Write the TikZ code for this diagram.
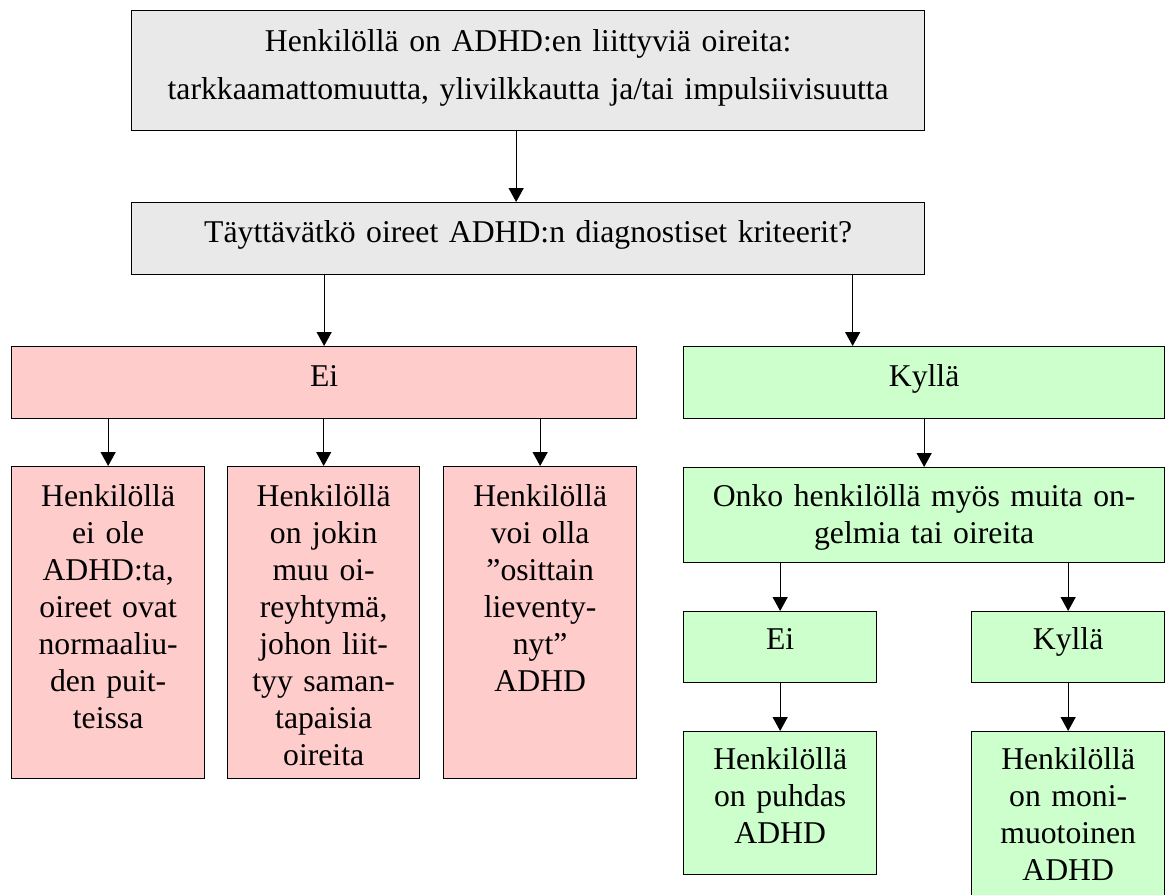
\documentclass[tikz,border=0pt]{standalone}
\usepackage{fontspec}
\setmainfont{Liberation Serif}
\usetikzlibrary{arrows.meta}
\definecolor{boxgray}{HTML}{E9E9E9}
\definecolor{boxred}{HTML}{FFCCCC}
\definecolor{boxgreen}{HTML}{CCFFCC}
\tikzset{
  fbox/.style={draw=black, line width=1.3pt, inner sep=0pt, align=center, anchor=north west,
    font=\fontsize{31.7}{37}\selectfont},
  gbox/.style={fbox, fill=boxgray},
  rbox/.style={fbox, fill=boxred},
  grbox/.style={fbox, fill=boxgreen},
  arr/.style={line width=1.3pt, -{Triangle[width=15pt,length=14pt]}}
}
\begin{document}
\begin{tikzpicture}[x=1pt,y=-1pt]
\useasboundingbox (0,0) rectangle (1172,894);
% top
\node[gbox, text width=793pt, text height=41pt, text depth=79pt,
  font=\fontsize{31.7}{48}\selectfont] (top) at (131,10)
  {Henkilöllä on ADHD:en liittyviä oireita:\\tarkkaamattomuutta, ylivilkkautta ja/tai impulsiivisuutta};
\node[gbox, text width=793pt, text height=40pt, text depth=32pt] (q) at (131,202)
  {Täyttävätkö oireet ADHD:n diagnostiset kriteerit?};
% level 2
\node[rbox, text width=625pt, text height=40pt, text depth=32pt] (nei) at (11,346) {Ei};
\node[grbox, text width=481pt, text height=40pt, text depth=32pt] (kyl) at (683,346) {Kyllä};
% red leaves
\node[rbox, text width=193pt, text height=40pt, text depth=272pt] (r1) at (11,466)
  {Henkilöllä\\ei ole\\ADHD:ta,\\oireet ovat\\normaaliu-\\den puit-\\teissa};
\node[rbox, text width=192pt, text height=40pt, text depth=272pt] (r2) at (227,466)
  {Henkilöllä\\on jokin\\muu oi-\\reyhtymä,\\johon liit-\\tyy saman-\\tapaisia\\oireita};
\node[rbox, text width=193pt, text height=40pt, text depth=272pt] (r3) at (443,466)
  {Henkilöllä\\voi olla\\”osittain\\lieventy-\\nyt”\\ADHD};
% green branch
\node[grbox, text width=481pt, text height=39pt, text depth=56pt] (onko) at (683,467)
  {Onko henkilöllä myös muita on-\\gelmia tai oireita};
\node[grbox, text width=193pt, text height=38pt, text depth=33pt] (gei) at (683,611) {Ei};
\node[grbox, text width=193pt, text height=38pt, text depth=33pt] (gkyl) at (971,611) {Kyllä};
\node[grbox, text width=193pt, text height=38pt, text depth=105pt] (g1) at (683,731)
  {Henkilöllä\\on puhdas\\ADHD};
\node[grbox, text width=193pt, text height=38pt, text depth=128pt] (g2) at (971,731)
  {Henkilöllä\\on moni-\\muotoinen\\ADHD};
% connectors
\coordinate (tx) at ([xshift=-12pt]q.north);
\draw[arr] (tx |- top.south) -- (tx);
\draw[arr] (nei.north |- q.south) -- (nei.north);
\coordinate (kx) at ([xshift=-71.5pt]kyl.north);
\draw[arr] (kx |- q.south) -- (kx);
\draw[arr] (r1.north |- nei.south) -- (r1.north);
\draw[arr] (r2.north |- nei.south) -- (r2.north);
\draw[arr] (r3.north |- nei.south) -- (r3.north);
\draw[arr] (kyl.south) -- (onko.north);
\draw[arr] (gei.north |- onko.south) -- (gei.north);
\draw[arr] (gkyl.north |- onko.south) -- (gkyl.north);
\draw[arr] (gei.south) -- (g1.north);
\draw[arr] (gkyl.south) -- (g2.north);
\end{tikzpicture}
\end{document}
